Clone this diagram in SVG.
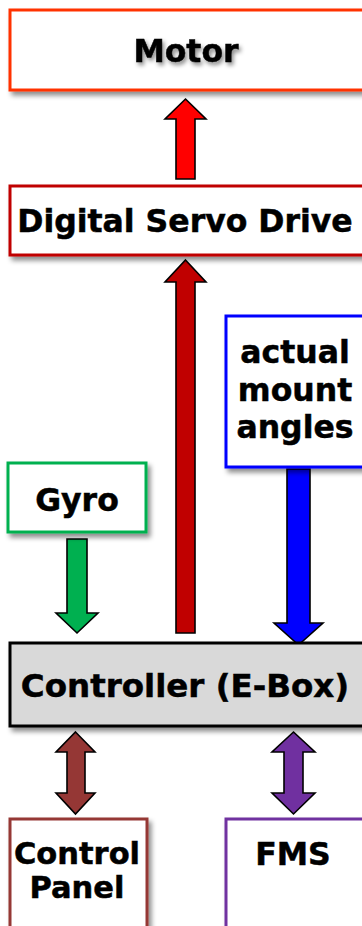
<svg xmlns="http://www.w3.org/2000/svg" width="362" height="926" viewBox="0 0 362 926">
<defs>
<filter id="sh" x="-10%" y="-10%" width="130%" height="140%">
<feDropShadow dx="3" dy="4" stdDeviation="2.5" flood-color="#000" flood-opacity="0.45"/>
</filter>
<filter id="tsh" x="-10%" y="-20%" width="130%" height="160%">
<feDropShadow dx="2" dy="3" stdDeviation="2" flood-color="#000" flood-opacity="0.45"/>
</filter>
</defs>
<style>
.box{fill:#fff;stroke-width:3}
.t{font-family:"DejaVu Sans","Verdana",sans-serif;font-weight:bold;font-size:31.5px;text-anchor:middle;fill:#000;stroke:#000;stroke-width:0.5}
.ar{stroke:#000;stroke-width:1.6;stroke-linejoin:miter}
</style>
<rect width="362" height="926" fill="#fff"/>
<g id="connectors">
<polygon class="ar" fill="#FF0000" points="185.5,99 206,119 195,119 195,179 176,179 176,119 165,119"/>
<polygon class="ar" fill="#C00000" points="185.5,260 206,282 195,282 195,633 176,633 176,282 165,282"/>
<polygon class="ar" fill="#0000FF" points="287,469 310,469 310,623 323,623 298.5,645 274,623 287,623"/>
<polygon class="ar" fill="#00B050" points="67,539 87,539 87,613 98,613 77,633 56,613 67,613"/>
<polygon class="ar" fill="#953735" points="75.5,732 95,752 85,752 85,793 95,793 75.5,814 56,793 67,793 67,752 56,752"/>
<polygon class="ar" fill="#7030A0" points="293.5,732 315,752 303,752 303,793 315,793 293.5,814 272,793 284,793 284,752 272,752"/>
</g>
<g id="motor">
<rect class="box" x="10" y="10" width="356" height="80" stroke="#FF3300" filter="url(#sh)"/>
<text class="t" x="186" y="62" filter="url(#tsh)">Motor</text>
</g>
<g id="servo">
<rect class="box" x="10" y="186" width="356" height="69" stroke="#C00000" filter="url(#sh)"/>
<text class="t" x="185" y="232">Digital Servo Drive</text>
</g>
<g id="angles">
<rect class="box" x="226" y="316" width="140" height="151" stroke="#0000FF" filter="url(#sh)"/>
<text class="t" x="295" y="363">actual</text>
<text class="t" x="295" y="401">mount</text>
<text class="t" x="295" y="438">angles</text>
</g>
<g id="gyro">
<rect class="box" x="8" y="463" width="138" height="69" stroke="#00B050" filter="url(#sh)"/>
<text class="t" x="77" y="511">Gyro</text>
</g>
<g id="controller">
<rect x="10" y="643" width="356" height="83" fill="#D9D9D9" stroke="#000" stroke-width="3" filter="url(#sh)"/>
<text class="t" x="185" y="697" style="font-size:32.5px">Controller (E-Box)</text>
</g>
<g id="panel">
<rect class="box" x="10" y="819" width="137" height="110" stroke="#953735" filter="url(#sh)"/>
<text class="t" x="77" y="864" style="font-size:30.5px">Control</text>
<text class="t" x="77" y="898" style="font-size:30.5px">Panel</text>
</g>
<g id="fms">
<rect class="box" x="226" y="819" width="140" height="110" stroke="#7030A0" filter="url(#sh)"/>
<text class="t" x="293" y="865">FMS</text>
</g>
</svg>
